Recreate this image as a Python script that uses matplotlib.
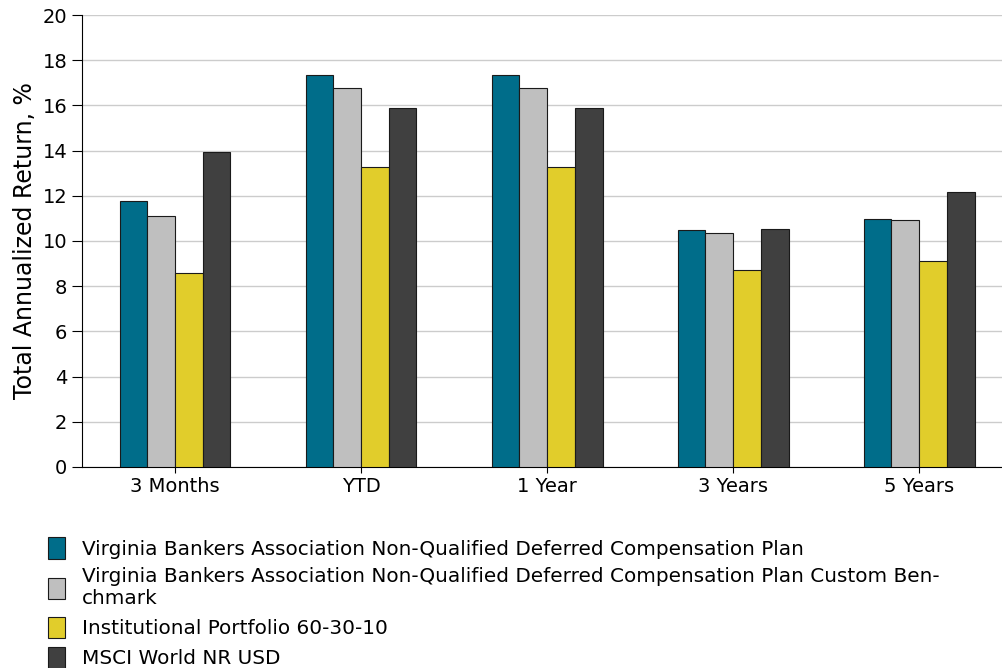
import matplotlib
matplotlib.use("Agg")
import matplotlib.pyplot as plt
import numpy as np

periods = ["3 Months", "YTD", "1 Year", "3 Years", "5 Years"]
plan = [11.77, 17.35, 17.35, 10.49, 10.97]
custom_bench = [11.10, 16.77, 16.77, 10.35, 10.93]
inst_portfolio = [8.58, 13.27, 13.27, 8.72, 9.12]
msci_world = [13.94, 15.88, 15.88, 10.53, 12.17]

series_names = [
    "Virginia Bankers Association Non-Qualified Deferred Compensation Plan",
    "Virginia Bankers Association Non-Qualified Deferred Compensation Plan Custom Ben-\nchmark",
    "Institutional Portfolio 60-30-10",
    "MSCI World NR USD",
]
colors = ["#006d8a", "#bfbfbf", "#e1cd2b", "#404040"]

fig = plt.figure(figsize=(10.02, 6.68), dpi=100)
ax = fig.add_axes([0.0818, 0.301, 0.9182, 0.6765])

x = np.arange(len(periods))
w = 0.149
handles = []
for i, vals in enumerate([plan, custom_bench, inst_portfolio, msci_world]):
    b = ax.bar(x + (i - 1.5) * w, vals, w, color=colors[i],
               edgecolor="#1a1a1a", linewidth=0.8, zorder=3)
    handles.append(b)

ax.set_xlim(-0.5, 4.445)
ax.set_ylim(0, 20)
ax.set_yticks(range(0, 21, 2))
ax.set_xticks(x)
ax.set_xticklabels(periods)
ax.tick_params(axis="y", length=7, labelsize=14)
ax.tick_params(axis="x", length=4, labelsize=14)
ax.yaxis.grid(True, color="#cccccc", linewidth=1, zorder=0)
ax.spines["top"].set_visible(False)
ax.spines["right"].set_visible(False)
ax.set_ylabel("Total Annualized Return, %", fontsize=17, labelpad=4)

fig.legend(handles, series_names, loc="upper left", bbox_to_anchor=(0.04, 0.208),
           frameon=False, handlelength=0.85, handleheight=1.3, handletextpad=0.85,
           labelspacing=0.42, borderaxespad=0,
           prop={"family": "DejaVu Sans", "size": 14.4})

fig.savefig("out.png", dpi=100)
